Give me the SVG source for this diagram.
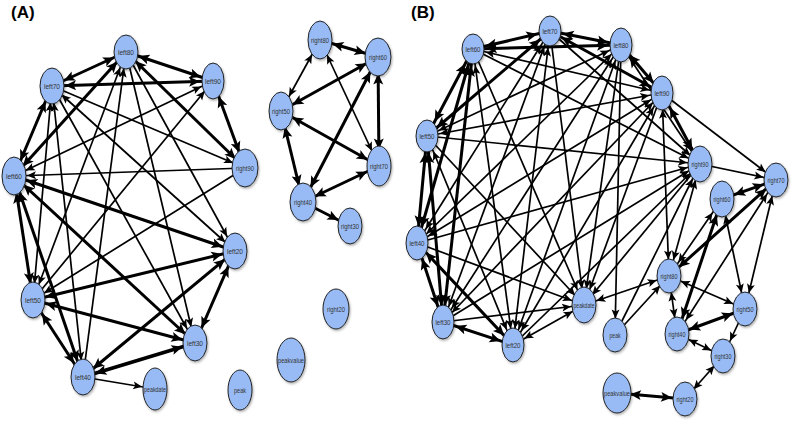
<svg xmlns="http://www.w3.org/2000/svg" width="796" height="427" viewBox="0 0 796 427">
<style>
.bg{fill:#fff}
.e line{stroke:#000;fill:none;stroke-linecap:butt}
.t{stroke-width:1.7;marker-end:url(#mt)}
.t.v{marker-end:url(#mtv)}
.t.d{marker-start:url(#mt)}
.t.v.d{marker-start:url(#mtv)}
.k{stroke-width:3;marker-end:url(#mk)}
.k.v{marker-end:url(#mkv)}
.k.d{marker-start:url(#mk)}
.k.v.d{marker-start:url(#mkv)}
.n ellipse{fill:#98bbf5;stroke:#222;stroke-width:1;filter:url(#sh)}
.n text{font-family:"Liberation Sans",Arial,sans-serif;font-size:7.5px;fill:#333;text-anchor:middle}
.pl{font-family:"Liberation Sans",Arial,sans-serif;font-size:17px;font-weight:bold;fill:#000}
</style>
<defs>
<filter id="sh" x="-30%" y="-30%" width="170%" height="170%"><feDropShadow dx="1" dy="1.5" stdDeviation="1" flood-color="#000" flood-opacity="0.3"/></filter>
<marker id="mt" markerUnits="userSpaceOnUse" markerWidth="10" markerHeight="8" refX="22" refY="4" orient="auto-start-reverse" overflow="visible"><path d="M0,0 L9,4 L0,8 L2,4 z" fill="#000"/></marker>
<marker id="mtv" markerUnits="userSpaceOnUse" markerWidth="10" markerHeight="8" refX="25.5" refY="4" orient="auto-start-reverse" overflow="visible"><path d="M0,0 L9,4 L0,8 L2,4 z" fill="#000"/></marker>
<marker id="mk" markerUnits="userSpaceOnUse" markerWidth="12" markerHeight="10" refX="24" refY="5" orient="auto-start-reverse" overflow="visible"><path d="M0,0 L11,5 L0,10 L2.4,5 z" fill="#000"/></marker>
<marker id="mkv" markerUnits="userSpaceOnUse" markerWidth="12" markerHeight="10" refX="27.5" refY="5" orient="auto-start-reverse" overflow="visible"><path d="M0,0 L11,5 L0,10 L2.4,5 z" fill="#000"/></marker>
</defs>
<rect class="bg" x="0" y="0" width="796" height="427"/>
<text class="pl" x="11" y="18">(A)</text>
<text class="pl" x="411" y="18">(B)</text>

<g id="connectors" class="e">
<!-- Panel A -->
<line class="k d" x1="52" y1="86" x2="126" y2="52"/>
<line class="k d" x1="126" y1="52" x2="213" y2="81"/>
<line class="k d" x1="52" y1="86" x2="213" y2="81"/>
<line class="k d v" x1="213" y1="81" x2="245" y2="168"/>
<line class="k d" x1="126" y1="52" x2="245" y2="168"/>
<line class="t" x1="52" y1="86" x2="245" y2="168"/>
<line class="t" x1="245" y1="168" x2="14" y2="176"/>
<line class="t d" x1="213" y1="81" x2="14" y2="176"/>
<line class="k d v" x1="14" y1="176" x2="52" y2="86"/>
<line class="k d" x1="14" y1="176" x2="126" y2="52"/>
<line class="k d v" x1="14" y1="176" x2="33" y2="300"/>
<line class="k d v" x1="14" y1="176" x2="83" y2="377"/>
<line class="k d" x1="14" y1="176" x2="235" y2="251"/>
<line class="k d" x1="14" y1="176" x2="195" y2="343"/>
<line class="t d v" x1="52" y1="86" x2="33" y2="300"/>
<line class="t d v" x1="83" y1="377" x2="52" y2="86"/>
<line class="t v" x1="52" y1="86" x2="195" y2="343"/>
<line class="t d" x1="52" y1="86" x2="235" y2="251"/>
<line class="t d v" x1="126" y1="52" x2="33" y2="300"/>
<line class="t v" x1="83" y1="377" x2="126" y2="52"/>
<line class="t v" x1="126" y1="52" x2="195" y2="343"/>
<line class="t v" x1="126" y1="52" x2="235" y2="251"/>
<line class="t" x1="33" y1="300" x2="213" y2="81"/>
<line class="t" x1="245" y1="168" x2="33" y2="300"/>
<line class="k d" x1="33" y1="300" x2="235" y2="251"/>
<line class="k d" x1="33" y1="300" x2="195" y2="343"/>
<line class="k d v" x1="33" y1="300" x2="83" y2="377"/>
<line class="k d" x1="83" y1="377" x2="235" y2="251"/>
<line class="k d" x1="83" y1="377" x2="195" y2="343" style="stroke-width:3.8"/>
<line class="k d v" x1="235" y1="251" x2="195" y2="343"/>
<line class="t" x1="83" y1="377" x2="155" y2="389"/>
<line class="k d" x1="320" y1="40" x2="378" y2="57"/>
<line class="t d v" x1="320" y1="40" x2="281" y2="111"/>
<line class="t d v" x1="320" y1="40" x2="379" y2="166"/>
<line class="k d" x1="378" y1="57" x2="281" y2="111"/>
<line class="k d v" x1="378" y1="57" x2="379" y2="166"/>
<line class="k d v" x1="378" y1="57" x2="303" y2="202"/>
<line class="k d" x1="281" y1="111" x2="379" y2="166"/>
<line class="k d v" x1="281" y1="111" x2="303" y2="202"/>
<line class="k d" x1="379" y1="166" x2="303" y2="202"/>
<line class="k" x1="303" y1="202" x2="350" y2="226"/>
<!-- Panel B ring -->
<line class="k d" x1="473" y1="49" x2="550" y2="31"/>
<line class="k d" x1="473" y1="49" x2="621" y2="45"/>
<line class="t d" x1="473" y1="49" x2="662" y2="93"/>
<line class="t" x1="473" y1="49" x2="700" y2="164"/>
<line class="t d v" x1="473" y1="49" x2="513" y2="345"/>
<line class="k d v" x1="473" y1="49" x2="443" y2="322"/>
<line class="k d v" x1="473" y1="49" x2="417" y2="243"/>
<line class="k d v" x1="473" y1="49" x2="427" y2="136"/>
<line class="k d" x1="550" y1="31" x2="621" y2="45"/>
<line class="k d" x1="550" y1="31" x2="662" y2="93"/>
<line class="t" x1="550" y1="31" x2="700" y2="164"/>
<line class="t d v" x1="550" y1="31" x2="513" y2="345"/>
<line class="t d v" x1="550" y1="31" x2="443" y2="322"/>
<line class="t d v" x1="550" y1="31" x2="417" y2="243"/>
<line class="k d" x1="550" y1="31" x2="427" y2="136"/>
<line class="k d" x1="621" y1="45" x2="662" y2="93"/>
<line class="t d v" x1="621" y1="45" x2="700" y2="164"/>
<line class="t d v" x1="621" y1="45" x2="513" y2="345"/>
<line class="t d v" x1="621" y1="45" x2="443" y2="322"/>
<line class="t d" x1="621" y1="45" x2="417" y2="243"/>
<line class="t d" x1="621" y1="45" x2="427" y2="136"/>
<line class="k d v" x1="662" y1="93" x2="700" y2="164"/>
<line class="t d v" x1="662" y1="93" x2="513" y2="345"/>
<line class="t d" x1="662" y1="93" x2="443" y2="322"/>
<line class="t d" x1="662" y1="93" x2="417" y2="243"/>
<line class="t d" x1="662" y1="93" x2="427" y2="136"/>
<line class="t" x1="513" y1="345" x2="700" y2="164"/>
<line class="t" x1="443" y1="322" x2="700" y2="164"/>
<line class="t" x1="417" y1="243" x2="700" y2="164"/>
<line class="t" x1="427" y1="136" x2="700" y2="164"/>
<line class="k d" x1="513" y1="345" x2="443" y2="322"/>
<line class="k d" x1="513" y1="345" x2="417" y2="243"/>
<line class="t d v" x1="513" y1="345" x2="427" y2="136"/>
<line class="k d v" x1="443" y1="322" x2="417" y2="243"/>
<line class="k d v" x1="443" y1="322" x2="427" y2="136"/>
<line class="k d v" x1="417" y1="243" x2="427" y2="136"/>
<!-- Panel B peakdate / peak -->
<line class="t v" x1="473" y1="49" x2="584" y2="305"/>
<line class="t v" x1="550" y1="31" x2="584" y2="305"/>
<line class="t v" x1="621" y1="45" x2="584" y2="305"/>
<line class="t v" x1="662" y1="93" x2="584" y2="305"/>
<line class="t" x1="700" y1="164" x2="584" y2="305"/>
<line class="t" x1="427" y1="136" x2="584" y2="305"/>
<line class="t" x1="417" y1="243" x2="584" y2="305"/>
<line class="t" x1="443" y1="322" x2="584" y2="305"/>
<line class="t d" x1="513" y1="345" x2="584" y2="305"/>
<line class="t d" x1="669" y1="276" x2="584" y2="305"/>
<line class="t v" x1="621" y1="45" x2="615" y2="335"/>
<line class="t" x1="615" y1="335" x2="669" y2="276"/>
<line class="t v" x1="615" y1="335" x2="700" y2="164"/>
<line class="t d v" x1="662" y1="93" x2="669" y2="276"/>
<line class="t d v" x1="700" y1="164" x2="669" y2="276"/>
<!-- Panel B right cluster -->
<line class="t" x1="700" y1="164" x2="776" y2="180"/>
<line class="t" x1="662" y1="93" x2="776" y2="180"/>
<line class="k d" x1="776" y1="180" x2="722" y2="199"/>
<line class="k d" x1="776" y1="180" x2="669" y2="276"/>
<line class="t d v" x1="776" y1="180" x2="677" y2="334"/>
<line class="t d v" x1="776" y1="180" x2="745" y2="309"/>
<line class="t d v" x1="722" y1="199" x2="669" y2="276"/>
<line class="k d v" x1="722" y1="199" x2="677" y2="334"/>
<line class="t d v" x1="722" y1="199" x2="745" y2="309"/>
<line class="t d" x1="669" y1="276" x2="745" y2="309"/>
<line class="t d v" x1="669" y1="276" x2="677" y2="334"/>
<line class="k d" x1="677" y1="334" x2="745" y2="309"/>
<line class="t d" x1="677" y1="334" x2="723" y2="356"/>
<line class="t v" x1="745" y1="309" x2="723" y2="356"/>
<line class="t d" x1="723" y1="356" x2="685" y2="399"/>
<line class="k d" x1="617" y1="393" x2="685" y2="399"/>
</g>

<!-- Panel A nodes -->
<g id="a-left80" class="n"><ellipse cx="126" cy="52" rx="12" ry="17"/><text x="126" y="54.5" textLength="16" lengthAdjust="spacingAndGlyphs">left80</text></g>
<g id="a-left70" class="n"><ellipse cx="52" cy="86" rx="12" ry="18"/><text x="52" y="88.5" textLength="16" lengthAdjust="spacingAndGlyphs">left70</text></g>
<g id="a-left90" class="n"><ellipse cx="213" cy="81" rx="11" ry="18"/><text x="213" y="83.5" textLength="16" lengthAdjust="spacingAndGlyphs">left90</text></g>
<g id="a-right90" class="n"><ellipse cx="245" cy="168" rx="13" ry="19"/><text x="245" y="170.5" textLength="18" lengthAdjust="spacingAndGlyphs">right90</text></g>
<g id="a-left60" class="n"><ellipse cx="14" cy="176" rx="12" ry="19"/><text x="14" y="178.5" textLength="16" lengthAdjust="spacingAndGlyphs">left60</text></g>
<g id="a-left20" class="n"><ellipse cx="235" cy="251" rx="12" ry="18"/><text x="235" y="253.5" textLength="16" lengthAdjust="spacingAndGlyphs">left20</text></g>
<g id="a-left50" class="n"><ellipse cx="33" cy="300" rx="12" ry="18"/><text x="33" y="302.5" textLength="16" lengthAdjust="spacingAndGlyphs">left50</text></g>
<g id="a-left30" class="n"><ellipse cx="195" cy="343" rx="12" ry="18"/><text x="195" y="345.5" textLength="16" lengthAdjust="spacingAndGlyphs">left30</text></g>
<g id="a-left40" class="n"><ellipse cx="83" cy="377" rx="12" ry="18"/><text x="83" y="379.5" textLength="16" lengthAdjust="spacingAndGlyphs">left40</text></g>
<g id="a-peakdate" class="n"><ellipse cx="155" cy="389" rx="12" ry="21"/><text x="155" y="391.5" textLength="22" lengthAdjust="spacingAndGlyphs">peakdate</text></g>
<g id="a-peak" class="n"><ellipse cx="240" cy="390" rx="12" ry="20"/><text x="240" y="392.5" textLength="12" lengthAdjust="spacingAndGlyphs">peak</text></g>
<g id="a-right80" class="n"><ellipse cx="320" cy="40" rx="12" ry="19"/><text x="320" y="42.5" textLength="18" lengthAdjust="spacingAndGlyphs">right80</text></g>
<g id="a-right60" class="n"><ellipse cx="378" cy="57" rx="13" ry="19"/><text x="378" y="59.5" textLength="18" lengthAdjust="spacingAndGlyphs">right60</text></g>
<g id="a-right50" class="n"><ellipse cx="281" cy="111" rx="12" ry="19"/><text x="281" y="113.5" textLength="18" lengthAdjust="spacingAndGlyphs">right50</text></g>
<g id="a-right70" class="n"><ellipse cx="379" cy="166" rx="12" ry="20"/><text x="379" y="168.5" textLength="18" lengthAdjust="spacingAndGlyphs">right70</text></g>
<g id="a-right40" class="n"><ellipse cx="303" cy="202" rx="13" ry="19"/><text x="303" y="204.5" textLength="18" lengthAdjust="spacingAndGlyphs">right40</text></g>
<g id="a-right30" class="n"><ellipse cx="350" cy="226" rx="12" ry="18"/><text x="350" y="228.5" textLength="18" lengthAdjust="spacingAndGlyphs">right30</text></g>
<g id="a-right20" class="n"><ellipse cx="336" cy="309" rx="13" ry="20"/><text x="336" y="311.5" textLength="18" lengthAdjust="spacingAndGlyphs">right20</text></g>
<g id="a-peakvalue" class="n"><ellipse cx="291" cy="360" rx="14" ry="22"/><text x="291" y="362.5" textLength="26" lengthAdjust="spacingAndGlyphs">peakvalue</text></g>

<!-- Panel B nodes -->
<g id="b-left60" class="n"><ellipse cx="473" cy="49" rx="11" ry="15"/><text x="473" y="51.5" textLength="15" lengthAdjust="spacingAndGlyphs">left60</text></g>
<g id="b-left70" class="n"><ellipse cx="550" cy="31" rx="11" ry="15"/><text x="550" y="33.5" textLength="15" lengthAdjust="spacingAndGlyphs">left70</text></g>
<g id="b-left80" class="n"><ellipse cx="621" cy="45" rx="11" ry="17"/><text x="621" y="47.5" textLength="15" lengthAdjust="spacingAndGlyphs">left80</text></g>
<g id="b-left90" class="n"><ellipse cx="662" cy="93" rx="11" ry="17"/><text x="662" y="95.5" textLength="15" lengthAdjust="spacingAndGlyphs">left90</text></g>
<g id="b-left50" class="n"><ellipse cx="427" cy="136" rx="11" ry="16"/><text x="427" y="138.5" textLength="15" lengthAdjust="spacingAndGlyphs">left50</text></g>
<g id="b-right90" class="n"><ellipse cx="700" cy="164" rx="12" ry="18"/><text x="700" y="166.5" textLength="17" lengthAdjust="spacingAndGlyphs">right90</text></g>
<g id="b-right70" class="n"><ellipse cx="776" cy="180" rx="12" ry="17"/><text x="776" y="182.5" textLength="17" lengthAdjust="spacingAndGlyphs">right70</text></g>
<g id="b-right60" class="n"><ellipse cx="722" cy="199" rx="12" ry="18"/><text x="722" y="201.5" textLength="17" lengthAdjust="spacingAndGlyphs">right60</text></g>
<g id="b-left40" class="n"><ellipse cx="417" cy="243" rx="11" ry="17"/><text x="417" y="245.5" textLength="15" lengthAdjust="spacingAndGlyphs">left40</text></g>
<g id="b-left30" class="n"><ellipse cx="443" cy="322" rx="11" ry="17"/><text x="443" y="324.5" textLength="15" lengthAdjust="spacingAndGlyphs">left30</text></g>
<g id="b-left20" class="n"><ellipse cx="513" cy="345" rx="11" ry="17"/><text x="513" y="347.5" textLength="15" lengthAdjust="spacingAndGlyphs">left20</text></g>
<g id="b-peakdate" class="n"><ellipse cx="584" cy="305" rx="12" ry="18"/><text x="584" y="307.5" textLength="21" lengthAdjust="spacingAndGlyphs">peakdate</text></g>
<g id="b-peak" class="n"><ellipse cx="615" cy="335" rx="12" ry="17"/><text x="615" y="337.5" textLength="11" lengthAdjust="spacingAndGlyphs">peak</text></g>
<g id="b-right80" class="n"><ellipse cx="669" cy="276" rx="12" ry="17"/><text x="669" y="278.5" textLength="17" lengthAdjust="spacingAndGlyphs">right80</text></g>
<g id="b-right40" class="n"><ellipse cx="677" cy="334" rx="12" ry="17"/><text x="677" y="336.5" textLength="17" lengthAdjust="spacingAndGlyphs">right40</text></g>
<g id="b-right50" class="n"><ellipse cx="745" cy="309" rx="12" ry="17"/><text x="745" y="311.5" textLength="17" lengthAdjust="spacingAndGlyphs">right50</text></g>
<g id="b-right30" class="n"><ellipse cx="723" cy="356" rx="12" ry="17"/><text x="723" y="358.5" textLength="17" lengthAdjust="spacingAndGlyphs">right30</text></g>
<g id="b-peakvalue" class="n"><ellipse cx="617" cy="393" rx="14" ry="20"/><text x="617" y="395.5" textLength="26" lengthAdjust="spacingAndGlyphs">peakvalue</text></g>
<g id="b-right20" class="n"><ellipse cx="685" cy="399" rx="12" ry="17"/><text x="685" y="401.5" textLength="17" lengthAdjust="spacingAndGlyphs">right20</text></g>
</svg>
